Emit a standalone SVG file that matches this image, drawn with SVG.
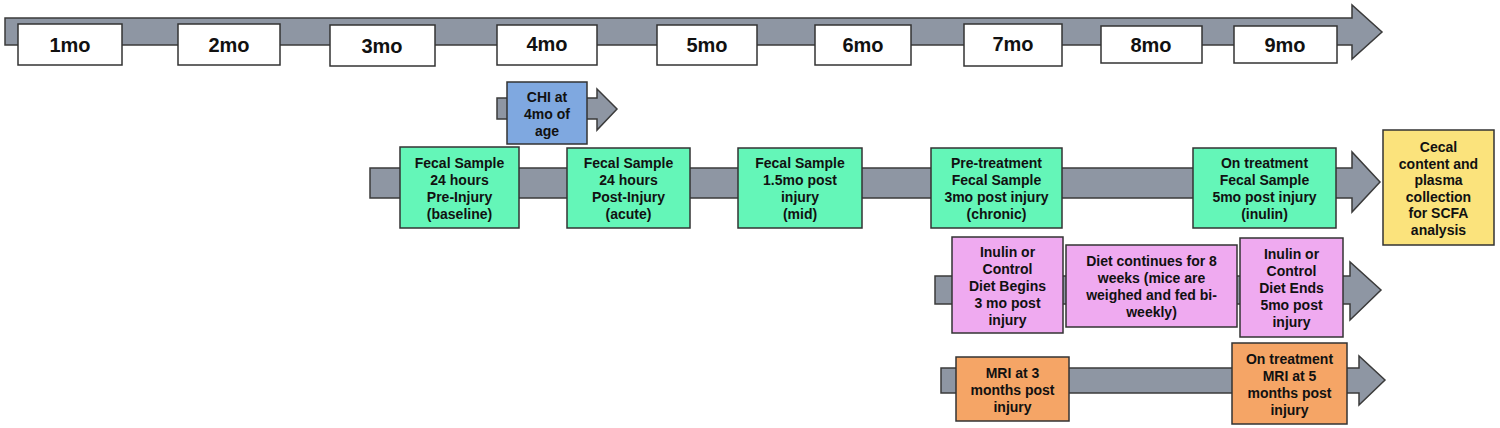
<svg xmlns="http://www.w3.org/2000/svg" width="1500" height="428" viewBox="0 0 1500 428">
<style>
.arr{fill:#8e96a3;stroke:#3b3b3b;stroke-width:1.5}
.box{stroke:#333;stroke-width:1.5}
.mo{fill:#fff}
.g{fill:#64f6b8}
.b{fill:#7fa8e0}
.p{fill:#efaaf0}
.y{fill:#fbe37c}
.o{fill:#f5a566}
text{font-family:"Liberation Sans",Arial,sans-serif;font-weight:bold;text-anchor:middle;fill:#111}
.m{font-size:20px}
.t{font-size:14px}
</style>
<rect width="1500" height="428" fill="#fff"/>
<g id="connectors">
<polygon class="arr" points="5,18 1352,18 1352,5 1382,32 1352,59 1352,45 5,45"/>
<polygon class="arr" points="497,98 597,98 597,89 617,109 597,130 597,119 497,119"/>
<polygon class="arr" points="370,168 1352,168 1352,152 1380,182 1352,212 1352,198 370,198"/>
<polygon class="arr" points="935,276 1350,276 1350,262 1381,290 1350,320 1350,304 935,304"/>
<polygon class="arr" points="941,368 1359,368 1359,356 1385,380 1359,405 1359,393 941,393"/>
</g>
<g id="m1"><rect class="box mo" x="18" y="24" width="104" height="41"/><text class="m" x="70" y="52">1mo</text></g>
<g id="m2"><rect class="box mo" x="178" y="24" width="102" height="41"/><text class="m" x="229" y="52">2mo</text></g>
<g id="m3"><rect class="box mo" x="330" y="25" width="105" height="41"/><text class="m" x="382" y="53">3mo</text></g>
<g id="m4"><rect class="box mo" x="497" y="25" width="100" height="40"/><text class="m" x="547" y="51">4mo</text></g>
<g id="m5"><rect class="box mo" x="657" y="25" width="100" height="40"/><text class="m" x="707" y="52">5mo</text></g>
<g id="m6"><rect class="box mo" x="815" y="25" width="96" height="40"/><text class="m" x="863" y="52">6mo</text></g>
<g id="m7"><rect class="box mo" x="964" y="24" width="98" height="42"/><text class="m" x="1013" y="51">7mo</text></g>
<g id="m8"><rect class="box mo" x="1101" y="26" width="101" height="37"/><text class="m" x="1151" y="52">8mo</text></g>
<g id="m9"><rect class="box mo" x="1234" y="26" width="103" height="37"/><text class="m" x="1285" y="52">9mo</text></g>
<g id="chi"><rect class="box b" x="507" y="82" width="80" height="62"/>
<text class="t" x="547" y="102">CHI at</text><text class="t" x="547" y="119">4mo of</text><text class="t" x="547" y="136">age</text></g>
<g id="f1"><rect class="box g" x="400" y="147" width="119" height="81"/>
<text class="t" x="459.5" y="168">Fecal Sample</text><text class="t" x="459.5" y="185">24 hours</text><text class="t" x="459.5" y="202">Pre-Injury</text><text class="t" x="459.5" y="219">(baseline)</text></g>
<g id="f2"><rect class="box g" x="567" y="148" width="123" height="80"/>
<text class="t" x="628.5" y="168">Fecal Sample</text><text class="t" x="628.5" y="185">24 hours</text><text class="t" x="628.5" y="202">Post-Injury</text><text class="t" x="628.5" y="219">(acute)</text></g>
<g id="f3"><rect class="box g" x="738" y="148" width="124" height="80"/>
<text class="t" x="800" y="168">Fecal Sample</text><text class="t" x="800" y="185">1.5mo post</text><text class="t" x="800" y="202">injury</text><text class="t" x="800" y="219">(mid)</text></g>
<g id="f4"><rect class="box g" x="931" y="148" width="131" height="80"/>
<text class="t" x="996.5" y="168">Pre-treatment</text><text class="t" x="996.5" y="185">Fecal Sample</text><text class="t" x="996.5" y="202">3mo post injury</text><text class="t" x="996.5" y="219">(chronic)</text></g>
<g id="f5"><rect class="box g" x="1193" y="148" width="143" height="80"/>
<text class="t" x="1264.5" y="168">On treatment</text><text class="t" x="1264.5" y="185">Fecal Sample</text><text class="t" x="1264.5" y="202">5mo post injury</text><text class="t" x="1264.5" y="219">(inulin)</text></g>
<g id="cecal"><rect class="box y" x="1383" y="130" width="111" height="115"/>
<text class="t" x="1438.5" y="152">Cecal</text><text class="t" x="1438.5" y="168.5">content and</text><text class="t" x="1438.5" y="185">plasma</text><text class="t" x="1438.5" y="201.5">collection</text><text class="t" x="1438.5" y="218">for SCFA</text><text class="t" x="1438.5" y="234.5">analysis</text></g>
<g id="d1"><rect class="box p" x="952" y="237" width="111" height="96"/>
<text class="t" x="1007.5" y="257">Inulin or</text><text class="t" x="1007.5" y="274">Control</text><text class="t" x="1007.5" y="291">Diet Begins</text><text class="t" x="1007.5" y="308">3 mo post</text><text class="t" x="1007.5" y="325">injury</text></g>
<g id="d2"><rect class="box p" x="1066" y="245" width="171" height="82"/>
<text class="t" x="1151.5" y="266">Diet continues for 8</text><text class="t" x="1151.5" y="283">weeks (mice are</text><text class="t" x="1151.5" y="300">weighed and fed bi-</text><text class="t" x="1151.5" y="317">weekly)</text></g>
<g id="d3"><rect class="box p" x="1240" y="238" width="103" height="99"/>
<text class="t" x="1291.5" y="259">Inulin or</text><text class="t" x="1291.5" y="276">Control</text><text class="t" x="1291.5" y="293">Diet Ends</text><text class="t" x="1291.5" y="310">5mo post</text><text class="t" x="1291.5" y="327">injury</text></g>
<g id="mri1"><rect class="box o" x="956" y="357" width="113" height="64"/>
<text class="t" x="1012.5" y="378">MRI at 3</text><text class="t" x="1012.5" y="395">months post</text><text class="t" x="1012.5" y="412">injury</text></g>
<g id="mri2"><rect class="box o" x="1232" y="343" width="115" height="81"/>
<text class="t" x="1289.5" y="364">On treatment</text><text class="t" x="1289.5" y="381">MRI at 5</text><text class="t" x="1289.5" y="398">months post</text><text class="t" x="1289.5" y="415">injury</text></g>
</svg>
